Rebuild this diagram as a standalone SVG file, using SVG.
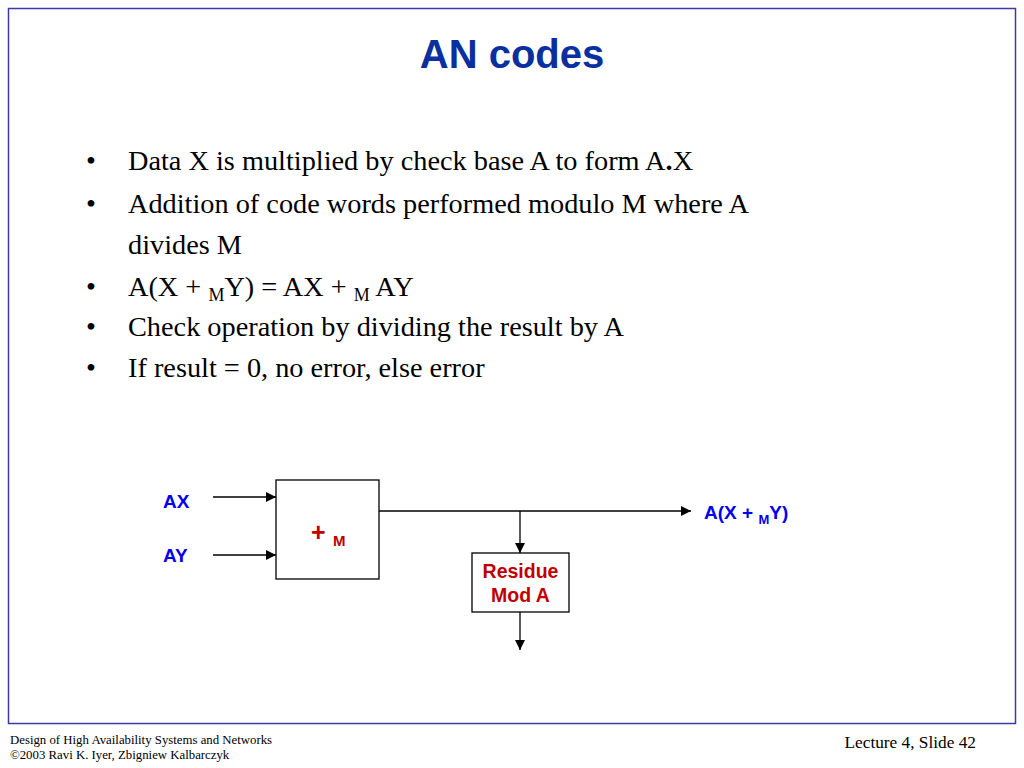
<svg xmlns="http://www.w3.org/2000/svg" width="1024" height="768" viewBox="0 0 1024 768">
<defs>
<marker id="ah" viewBox="0 0 10 10" refX="10" refY="5" markerWidth="10" markerHeight="10" markerUnits="userSpaceOnUse" orient="auto">
<path d="M0,0 L10,5 L0,10 z" fill="#000"/>
</marker>
<style>
.body{font-family:"Liberation Serif","Times New Roman",serif;font-size:28.3px;fill:#000}
.lbl{font-family:"Liberation Sans",Arial,sans-serif;font-weight:bold;font-size:19px;fill:#0000ee}
.red{font-family:"Liberation Sans",Arial,sans-serif;font-weight:bold;font-size:19.5px;fill:#c00000}
.box{fill:#fff;stroke:#000;stroke-width:1.3}
.conn{stroke:#000;stroke-width:1.3;fill:none}
.foot{font-family:"Liberation Serif","Times New Roman",serif;fill:#000}
</style>
</defs>
<rect width="1024" height="768" fill="#fff"/>
<rect x="8.5" y="8.5" width="1007" height="715" fill="none" stroke="#3a3aaa" stroke-width="1.5"/>
<text x="512" y="68" text-anchor="middle" font-family="Liberation Sans, Arial, sans-serif" font-weight="bold" font-size="40" fill="#0a2f9e">AN codes</text>
<g id="bullets" class="body">
<text x="86" y="170">•</text><text x="128" y="170">Data X is multiplied by check base A to form A<tspan font-weight="bold">.</tspan>X</text>
<text x="86" y="213">•</text><text x="128" y="213">Addition of code words performed modulo M where A</text>
<text x="128" y="254">divides M</text>
<text x="86" y="296">•</text><text x="128" y="296">A(X + <tspan font-size="18" dy="5">M</tspan><tspan dy="-5">Y) = AX + </tspan><tspan font-size="18" dy="5">M</tspan><tspan dy="-5"> AY</tspan></text>
<text x="86" y="336">•</text><text x="128" y="336">Check operation by dividing the result by A</text>
<text x="86" y="377">•</text><text x="128" y="377">If result = 0, no error, else error</text>
</g>
<g id="connectors">
<line class="conn" x1="213" y1="497" x2="276" y2="497" marker-end="url(#ah)"/>
<line class="conn" x1="213" y1="555" x2="276" y2="555" marker-end="url(#ah)"/>
<line class="conn" x1="379" y1="511" x2="691" y2="511" marker-end="url(#ah)"/>
<line class="conn" x1="520" y1="511" x2="520" y2="553" marker-end="url(#ah)"/>
<line class="conn" x1="520" y1="612" x2="520" y2="650" marker-end="url(#ah)"/>
</g>
<g id="in-ax"><text class="lbl" x="163" y="508">AX</text></g>
<g id="in-ay"><text class="lbl" x="163" y="562">AY</text></g>
<g id="adder">
<rect class="box" x="276" y="480" width="103" height="99"/>
<text class="red" x="311" y="541" style="font-size:25px">+</text><text class="red" x="333" y="546" style="font-size:15px">M</text>
</g>
<g id="out"><text class="lbl" x="704" y="519">A(X + <tspan style="font-size:13px" dy="5">M</tspan><tspan dy="-5">Y)</tspan></text></g>
<g id="residue">
<rect class="box" x="472" y="553" width="97" height="59"/>
<text class="red" x="520.5" y="578" text-anchor="middle">Residue</text>
<text class="red" x="520.5" y="602" text-anchor="middle">Mod A</text>
</g>
<g id="footer">
<text class="foot" x="10" y="744" font-size="12.8">Design of High Availability Systems and Networks</text>
<text class="foot" x="10" y="759" font-size="12.8">©2003 Ravi K. Iyer, Zbigniew Kalbarczyk</text>
<text class="foot" x="976" y="748" font-size="17.3" text-anchor="end">Lecture 4, Slide 42</text>
</g>
</svg>
